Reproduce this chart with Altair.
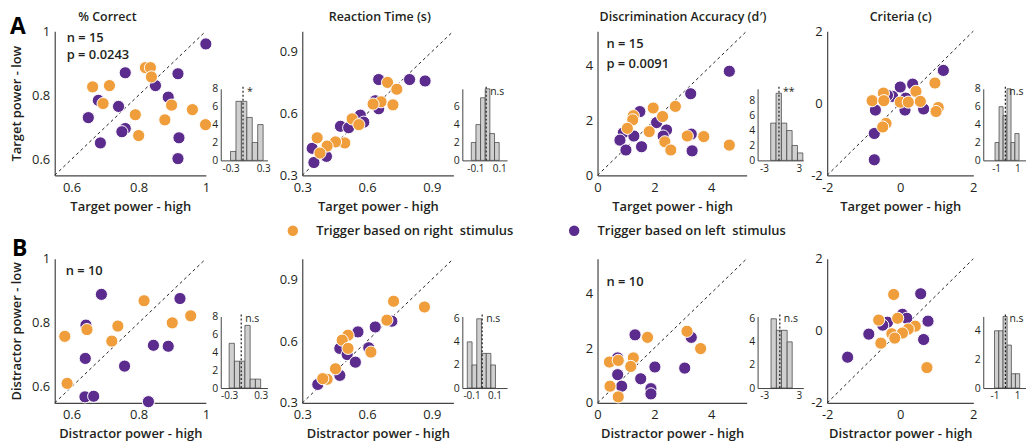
import altair as alt
import pandas as pd

FONT = "Open Sans"
ORANGE = "#F09D3B"
PURPLE = "#5B2C8D"
BAR_FILL = "#cfcfcf"
INK = "#231f20"

RIGHT_LABEL = "Trigger based on right\u00a0 stimulus"
LEFT_LABEL = "Trigger based on left\u00a0 stimulus"

TITLES = ["% Correct", "Reaction Time (s)", "Discrimination Accuracy (d\u2032)", "Criteria (c)"]
X_TITLES = ["Target power - high", "Distractor power - high"]
Y_TITLES = ["Target power - low", "Distractor power - low"]
LETTERS = ["A", "B"]

# ---- scatter values (x = power high, y = power low) ----
A1_RIGHT = [(0.82, 0.886), (0.835, 0.886), (0.838, 0.857), (0.663, 0.826), (0.713, 0.830), (0.694, 0.774),
            (0.898, 0.769), (0.96, 0.755), (0.79, 0.739), (0.878, 0.723), (0.999, 0.708), (0.80, 0.674)]
A1_LEFT = [(1.0, 0.96), (0.76, 0.87), (0.917, 0.867), (0.85, 0.83), (0.888, 0.794), (0.68, 0.784), (0.74, 0.765),
           (0.65, 0.73), (0.76, 0.696), (0.75, 0.686), (0.686, 0.651), (0.92, 0.667), (0.917, 0.602)]
A2_RIGHT = [(0.695, 0.751), (0.738, 0.718), (0.665, 0.657), (0.628, 0.646), (0.72, 0.642), (0.531, 0.574),
            (0.562, 0.546), (0.497, 0.457), (0.454, 0.462), (0.415, 0.442), (0.369, 0.482), (0.382, 0.408)]
A2_LEFT = [(0.654, 0.765), (0.797, 0.765), (0.869, 0.758), (0.638, 0.662), (0.654, 0.623), (0.569, 0.592),
           (0.585, 0.558), (0.477, 0.538), (0.515, 0.531), (0.346, 0.431), (0.412, 0.392), (0.354, 0.362)]
A3_RIGHT = [(1.96, 2.45), (2.74, 2.51), (2.29, 2.14), (1.26, 2.17), (1.24, 2.02), (1.82, 1.59), (1.05, 1.71),
            (3.16, 1.43), (3.74, 1.41), (2.37, 1.22), (2.58, 0.92), (4.64, 1.10)]
A3_LEFT = [(4.64, 3.79), (3.28, 2.97), (1.49, 2.32), (2.08, 1.92), (0.91, 1.55), (1.28, 1.43), (0.79, 1.28),
           (2.43, 1.65), (2.31, 1.43), (1.55, 1.04), (1.0, 0.92), (3.30, 1.50), (3.33, 0.89)]
A4_RIGHT = [(0.95, 0.56), (-0.46, 0.28), (-0.77, 0.07), (-0.45, 0.07), (0.43, 0.33), (0.55, 0.05), (0.0, 0.03),
            (0.22, 0.03), (1.04, -0.12), (0.98, -0.23), (-0.39, -0.56), (-0.48, -0.66)]
A4_LEFT = [(1.18, 0.91), (0.0, 0.45), (0.34, 0.53), (-0.21, 0.19), (0.15, 0.14), (-0.68, -0.19), (0.13, -0.19),
           (0.64, -0.16), (-0.71, -0.84), (-0.71, -1.57), (-0.35, 0.22)]
B1_RIGHT = [(0.816, 0.869), (0.955, 0.822), (0.900, 0.800), (0.738, 0.790), (0.646, 0.779), (0.580, 0.758),
            (0.720, 0.743), (0.587, 0.611)]
B1_LEFT = [(0.689, 0.889), (0.923, 0.876), (0.643, 0.793), (0.844, 0.730), (0.888, 0.727), (0.641, 0.689),
           (0.758, 0.665), (0.640, 0.569), (0.666, 0.571), (0.829, 0.554)]
B2_RIGHT = [(0.723, 0.794), (0.866, 0.766), (0.692, 0.702), (0.512, 0.629), (0.485, 0.605), (0.512, 0.565),
            (0.618, 0.547), (0.454, 0.466), (0.415, 0.415), (0.395, 0.418)]
B2_LEFT = [(0.558, 0.645), (0.638, 0.669), (0.715, 0.697), (0.474, 0.565), (0.508, 0.535), (0.608, 0.568),
           (0.546, 0.498), (0.474, 0.434), (0.372, 0.390)]
B3_RIGHT = [(1.76, 2.39), (3.15, 2.61), (3.63, 1.98), (0.42, 1.49), (0.73, 1.55), (1.26, 1.64), (1.17, 1.33),
            (0.44, 0.61), (0.73, 0.22)]
B3_LEFT = [(1.32, 2.48), (3.30, 2.39), (2.02, 1.31), (3.07, 1.27), (0.71, 1.03), (0.85, 0.61), (1.52, 0.88),
           (1.88, 0.52), (1.88, 0.33), (0.71, 1.64)]
B4_RIGHT = [(-0.18, 1.01), (-0.59, 0.30), (-0.07, 0.35), (0.41, 0.13), (0.22, 0.05), (-0.23, -0.08), (0.06, -0.06),
            (-0.15, -0.2), (-0.53, -0.34), (0.73, -1.02)]
B4_LEFT = [(0.56, 1.03), (0.06, 0.46), (0.18, 0.35), (0.76, 0.27), (-0.35, 0.24), (-0.48, 0.16), (-0.86, -0.09),
           (0.64, -0.24), (-1.44, -0.73)]

NOTES_A = [["n = 15", "p = 0.0243"], [], ["n = 15", "p = 0.0091"], []]
NOTES_B = [["n = 10"], [], ["n = 10"], []]

# axis ranges / ticks per column
DOMAINS = [[0.55, 1.0], [0.3, 1.0], [0.0, 5.25], [-2.0, 2.0]]
TICKS = [[0.6, 0.8, 1.0], [0.3, 0.6, 0.9], [0, 2, 4], [-2, 0, 2]]

# ---- histogram values (difference distributions) ----
HA1_EDGES = [-0.3, -0.2, -0.1, 0.0, 0.1, 0.2, 0.3]
HA1_COUNTS = [1, 6.6, 6.6, 4.8, 2, 4]
HA2_EDGES = [-0.135, -0.096, -0.057, -0.018, 0.021, 0.06, 0.099]
HA2_COUNTS = [2, 4, 7, 8, 3, 2]
HA3_EDGES = [-1.85, -0.93, -0.01, 0.91, 1.83, 2.75, 3.67]
HA3_COUNTS = [5, 9, 5, 4, 2, 1]
HA4_EDGES = [-1.1, -0.72, -0.34, 0.02, 0.4, 0.76, 1.15]
HA4_COUNTS = [2, 6, 5, 8, 2, 3]
HB1_EDGES = [-0.3, -0.2, -0.1, 0.0, 0.1, 0.2, 0.3]
HB1_COUNTS = [5, 3, 3, 7, 1, 1]
HB2_EDGES = [-0.137, -0.095, -0.054, -0.013, 0.029, 0.069, 0.109]
HB2_COUNTS = [4, 2, 6, 3, 3, 2]
HB3_EDGES = [-1.83, -0.9, -0.03, 0.96, 1.83]
HB3_COUNTS = [6, 5, 5, 4]
HB4_EDGES = [-1.0, -0.62, -0.24, 0.12, 0.5, 0.86, 1.24]
HB4_COUNTS = [4, 4, 5, 3, 1, 1]

HA_MEANS = [-0.07, -0.01, -0.43, -0.13]
HB_MEANS = [-0.07, -0.007, -0.31, -0.03]
HA_SIG = ["*", "n.s", "**", "n.s"]
HB_SIG = ["n.s", "n.s", "n.s", "n.s"]
HA_XDOM = [[-0.48, 0.38], [-0.21, 0.165], [-4.1, 3.75], [-2.2, 1.8]]
HB_XDOM = [[-0.46, 0.43], [-0.18, 0.21], [-4.15, 3.75], [-2.0, 1.8]]
H_XTICKS = [[-0.3, 0.3], [-0.1, 0.1], [-3, 3], [-1, 1]]
HA_YMAX = [8, 8, 9.6, 8]
HB_YMAX = [8, 6.2, 6.2, 5]
HA_YTICKS = [[0, 2, 4, 6, 8], [0, 2, 4, 6], [0, 2, 4, 6, 8], [0, 2, 4, 6, 8]]
HB_YTICKS = [[0, 2, 4, 6, 8], [0, 2, 4, 6], [0, 2, 4, 6], [0, 2, 4]]

# ---- layout / style constants (pixels) ----
SC_W = [152, 152, 150, 147]
SC_H = 145
H_W = [47, 45, 46, 43]
H_H = 72
H_LIFT = 15
GAPS = [15, 35, 9, 91, 11, 24, 10]
ROW_GAP = 84
TITLE_X = [53, 78, 86, 74]
NOTE_POS = {(0, 0): (12, 7, 17), (0, 2): (9, 13, 20), (1, 0): (11, 12, 17), (1, 2): (9, 23, 17)}
LETTER_POS = [(-45, 3), (-43, -3)]
HYPHEN = "replace(datum.label, '\u2212', '-')"

LEGEND = alt.Legend(orient="none", legendX=233, legendY=194, direction="horizontal", title=None,
                    symbolType="circle", symbolSize=110, symbolStrokeWidth=0, labelFont=FONT,
                    labelFontSize=13, labelFontWeight=600, labelColor=INK, labelOffset=17,
                    labelLimit=500, columnPadding=54, padding=0)
COLOR_SCALE = alt.Scale(domain=[RIGHT_LABEL, LEFT_LABEL], range=[ORANGE, PURPLE])


def spacer(w, h):
    return alt.Chart(pd.DataFrame({"s": [0]})).mark_point(opacity=0).encode(
        x=alt.value(0), y=alt.value(0)).properties(width=w, height=h)


def label(text, x, y, size=13, weight=600, align="left", baseline="middle", color=INK):
    return alt.Chart(pd.DataFrame({"t": [text]})).mark_text(
        align=align, baseline=baseline, font=FONT, fontSize=size, fontWeight=weight, color=color).encode(
        x=alt.value(x), y=alt.value(y), text="t:N")


def scatter(r, c, right, left):
    dom = DOMAINS[c]
    df = pd.DataFrame([{"x": x, "y": y, "g": LEFT_LABEL} for x, y in left] +
                      [{"x": x, "y": y, "g": RIGHT_LABEL} for x, y in right])
    diag_df = pd.DataFrame({"x": dom, "y": dom})
    xs = alt.Scale(domain=dom, nice=False, zero=False)
    ys = alt.Scale(domain=dom, nice=False, zero=False)
    common = dict(values=TICKS[c], format="~g", labelExpr=HYPHEN, grid=False, ticks=False, labelFontSize=13,
                  labelFont=FONT, labelColor=INK, titleFont=FONT, titleFontSize=13, titleFontWeight=600,
                  titleColor=INK, domainColor="#444", domainWidth=1.2, labelFlush=False)
    xax = alt.Axis(title=X_TITLES[r], labelPadding=6, titlePadding=6, **common)
    yax = alt.Axis(title=Y_TITLES[r] if c == 0 else None, labelPadding=5, titlePadding=8, **common)
    X = alt.X("x:Q", scale=xs, axis=xax)
    Y = alt.Y("y:Q", scale=ys, axis=yax)
    diag = alt.Chart(diag_df).mark_line(color=INK, strokeDash=[3, 3], strokeWidth=1).encode(x=X, y=Y)
    pts = alt.Chart(df).mark_circle(size=150, stroke="white", strokeWidth=1, opacity=1).encode(
        x=X, y=Y, color=alt.Color("g:N", scale=COLOR_SCALE, legend=LEGEND))
    layers = [diag, pts]
    notes = (NOTES_A if r == 0 else NOTES_B)[c]
    if notes:
        nx, ny, lh = NOTE_POS[(r, c)]
        for i, line in enumerate(notes):
            layers.append(label(line, nx, ny + i * lh, size=13))
    if r == 0:
        layers.append(label(TITLES[c], TITLE_X[c], -14, size=12.5, align="center"))
    if c == 0:
        lx, ly = LETTER_POS[r]
        layers.append(label(LETTERS[r], lx, ly, size=23, weight="bold", baseline="alphabetic", color="black"))
    return alt.layer(*layers).properties(width=SC_W[c], height=SC_H)


def hist(edges, counts, mean, sig, xdom, xticks, ymax, yticks, w):
    df = pd.DataFrame({"a": edges[:-1], "b": edges[1:], "c": counts})
    bottom = SC_H - H_LIFT
    xs = alt.Scale(domain=xdom, nice=False, zero=False)
    ys = alt.Scale(domain=[0, ymax], nice=False, range=[bottom, bottom - H_H])
    xax = alt.Axis(values=xticks, format="~g", labelExpr=HYPHEN, title=None, grid=False, ticks=False,
                   labelFont=FONT, labelFontSize=10, labelColor=INK, labelPadding=3, domainColor="#444",
                   labelFlush=False, offset=-H_LIFT)
    yax = alt.Axis(values=yticks, title=None, grid=False, ticks=False, labelFont=FONT,
                   labelFontSize=10.5, labelColor=INK, labelPadding=3, domainColor="#444")
    bars = alt.Chart(df).mark_rect(fill=BAR_FILL, stroke="#3a3a3a", strokeWidth=0.7).encode(
        x=alt.X("a:Q", scale=xs, axis=xax), x2="b:Q",
        y=alt.Y("c:Q", scale=ys, axis=yax), y2=alt.datum(0))
    mdf = pd.DataFrame({"m": [mean], "s": [sig], "lo": [0], "hi": [ymax * 1.03]})
    rule = alt.Chart(mdf).mark_rule(color=INK, strokeDash=[2, 2], strokeWidth=1.2).encode(
        x=alt.X("m:Q", scale=xs, axis=xax), y=alt.Y("lo:Q", scale=ys, axis=yax), y2="hi:Q")
    txt = alt.Chart(mdf).mark_text(align="left", baseline="middle", dx=4, dy=5, font=FONT, fontSize=10.5,
                                   color=INK).encode(x=alt.X("m:Q", scale=xs, axis=xax),
                                                     y=alt.Y("hi:Q", scale=ys, axis=yax), text="s:N")
    return alt.layer(bars, rule, txt).properties(width=w, height=SC_H)


def row(r):
    if r == 0:
        sets = [(A1_RIGHT, A1_LEFT), (A2_RIGHT, A2_LEFT), (A3_RIGHT, A3_LEFT), (A4_RIGHT, A4_LEFT)]
        hd = [(HA1_EDGES, HA1_COUNTS), (HA2_EDGES, HA2_COUNTS), (HA3_EDGES, HA3_COUNTS), (HA4_EDGES, HA4_COUNTS)]
        means, sigs, xdoms, ymaxs, yticks = HA_MEANS, HA_SIG, HA_XDOM, HA_YMAX, HA_YTICKS
    else:
        sets = [(B1_RIGHT, B1_LEFT), (B2_RIGHT, B2_LEFT), (B3_RIGHT, B3_LEFT), (B4_RIGHT, B4_LEFT)]
        hd = [(HB1_EDGES, HB1_COUNTS), (HB2_EDGES, HB2_COUNTS), (HB3_EDGES, HB3_COUNTS), (HB4_EDGES, HB4_COUNTS)]
        means, sigs, xdoms, ymaxs, yticks = HB_MEANS, HB_SIG, HB_XDOM, HB_YMAX, HB_YTICKS
    items = []
    for c in range(4):
        items.append(scatter(r, c, sets[c][0], sets[c][1]))
        items.append(spacer(GAPS[2 * c], 1))
        items.append(hist(hd[c][0], hd[c][1], means[c], sigs[c], xdoms[c], H_XTICKS[c], ymaxs[c], yticks[c], H_W[c]))
        if c < 3:
            items.append(spacer(GAPS[2 * c + 1], 1))
    return items


cells = row(0) + row(1)
chart = alt.concat(*cells, columns=15, spacing={"row": ROW_GAP, "column": 0}, bounds="flush",
                   align="each").properties(
    padding={"left": 2, "top": 2, "right": 0, "bottom": 0}, background="white"
).configure_view(stroke=None)

chart.save("out.html", embed_options={"renderer": "svg", "actions": False})
